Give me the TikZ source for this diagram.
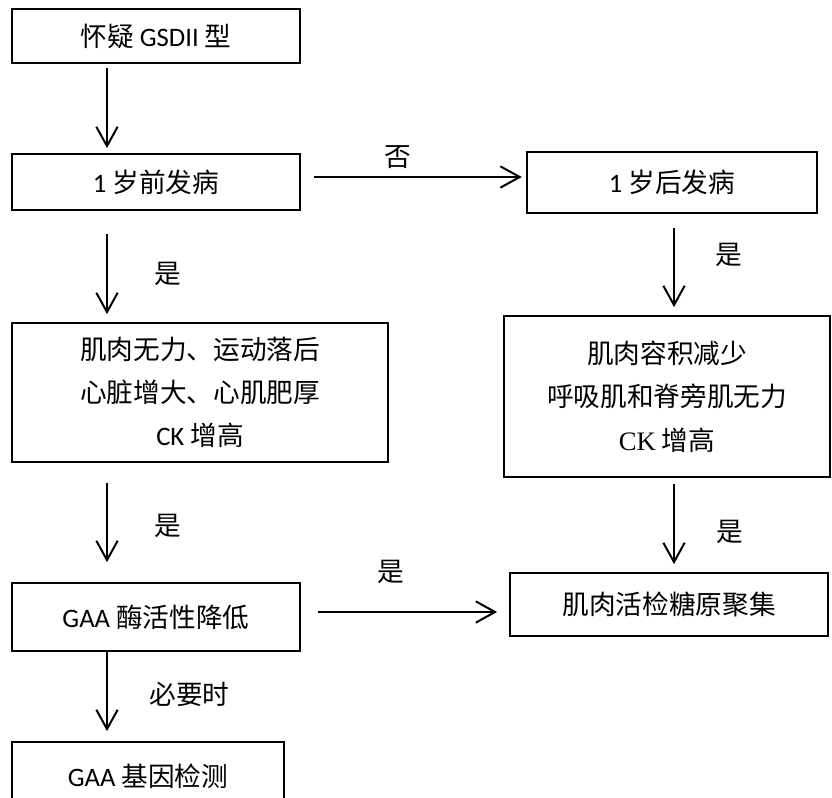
\documentclass[tikz,border=0pt]{standalone}
\usepackage{fontspec}
\setmainfont{Carlito}
\newfontfamily\cjk{Noto Sans CJK SC}
\newfontfamily\seriffont{Liberation Serif}
\usetikzlibrary{arrows.meta}

\begin{document}
\begin{tikzpicture}[
  x=0.75pt,y=-0.75pt,
  box/.style={draw,line width=1.3pt,inner sep=0pt,align=center,font=\fontsize{20}{32}\selectfont},
  arr/.style={line width=1.5pt,-{Straight Barb[length=14.5pt,width=16pt]}},
  lab/.style={inner sep=0pt,font=\fontsize{20}{24}\selectfont\cjk}
]
  \useasboundingbox (0,0) rectangle (832,798);

  \node[box,minimum width=216pt,minimum height=40.5pt] (suspect) at (156,36) {{\cjk 怀疑} GSDII {\cjk 型}};
  \node[box,minimum width=216pt,minimum height=42pt] (early) at (156,182) {1 {\cjk 岁前发病}};
  \node[box,minimum width=218pt,minimum height=45.75pt] (late) at (672,182.5) {1 {\cjk 岁后发病}};
  \node[box,minimum width=282pt,minimum height=104.25pt] (infant) at (200,392.5)
    {{\cjk 肌肉无力、运动落后}\\{\cjk 心脏增大、心肌肥厚}\\CK {\cjk 增高}};
  \node[box,minimum width=244.5pt,minimum height=120.75pt,font=\fontsize{20}{32.6}\selectfont] (adult) at (667,396.5)
    {{\cjk 肌肉容积减少}\\{\cjk 呼吸肌和脊旁肌无力}\\{\seriffont CK} {\cjk 增高}};
  \node[box,minimum width=216pt,minimum height=51pt] (enzyme) at (156,617) {GAA {\cjk 酶活性降低}};
  \node[box,minimum width=238.5pt,minimum height=47.25pt] (biopsy) at (669,604.5) {{\cjk 肌肉活检糖原聚集}};
  \node[box,minimum width=204pt,minimum height=51pt] (gene) at (148,776) {GAA {\cjk 基因检测}};

  \coordinate (colL) at (107,0);
  \coordinate (colR) at (674,0);
  \coordinate (rowA) at (0,177);
  \coordinate (rowB) at (0,612);

  \draw[arr,shorten <=3pt,shorten >=3.75pt] (suspect.south -| colL) -- (early.north -| colL);
  \draw[arr,shorten <=17.25pt,shorten >=6pt] (early.south -| colL) -- node[lab,right=35pt,pos=0.57]{是} (infant.north -| colL);
  \draw[arr,shorten <=9.75pt,shorten >=3pt] (early.east |- rowA) -- node[lab,above=5.6pt,pos=0.43]{否} (late.west |- rowA);
  \draw[arr,shorten <=10.5pt,shorten >=6pt] (late.south -| colR) -- node[lab,right=30pt,pos=0.41]{是} (adult.north -| colR);
  \draw[arr,shorten <=15pt,shorten >=15pt] (infant.south -| colL) -- node[lab,right=35pt,pos=0.53]{是} (enzyme.north -| colL);
  \draw[arr,shorten <=4.5pt,shorten >=6pt] (adult.south -| colR) -- node[lab,right=31pt,pos=0.57]{是} (biopsy.north -| colR);
  \draw[arr,shorten <=12.75pt,shorten >=9pt] (enzyme.east |- rowB) -- node[lab,above=20.6pt,pos=0.43]{是} (biopsy.west |- rowB);
  \draw[arr,shorten >=7.5pt] (enzyme.south -| colL) -- node[lab,right=31pt,pos=0.48]{必要时} (gene.north -| colL);
\end{tikzpicture}
\end{document}
